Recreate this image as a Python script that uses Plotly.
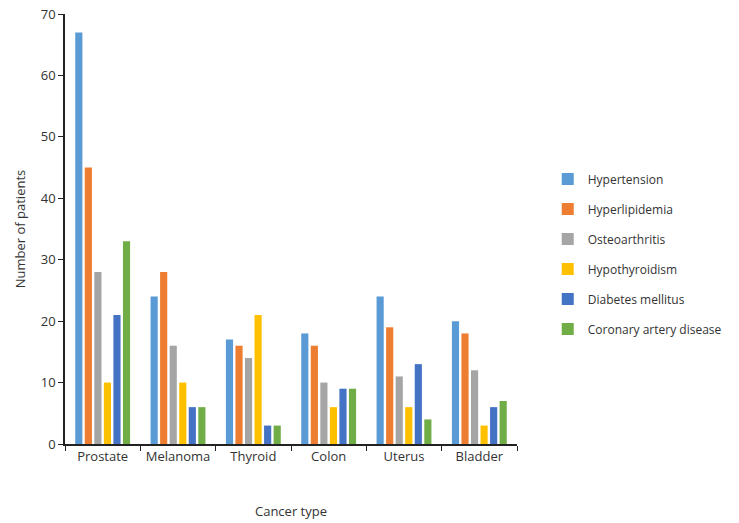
import plotly.graph_objects as go

cancer_types = ["Prostate", "Melanoma", "Thyroid", "Colon", "Uterus", "Bladder"]

hypertension = [67, 24, 17, 18, 24, 20]
hyperlipidemia = [45, 28, 16, 16, 19, 18]
osteoarthritis = [28, 16, 14, 10, 11, 12]
hypothyroidism = [10, 10, 21, 6, 6, 3]
diabetes_mellitus = [21, 6, 3, 9, 13, 6]
coronary_artery_disease = [33, 6, 3, 9, 4, 7]

series = [
    ("Hypertension", hypertension, "#5B9BD5"),
    ("Hyperlipidemia", hyperlipidemia, "#ED7D31"),
    ("Osteoarthritis", osteoarthritis, "#A5A5A5"),
    ("Hypothyroidism", hypothyroidism, "#FFC000"),
    ("Diabetes mellitus", diabetes_mellitus, "#4472C4"),
    ("Coronary artery disease", coronary_artery_disease, "#70AD47"),
]

fig = go.Figure()
for name, values, color in series:
    fig.add_trace(go.Bar(
        x=cancer_types, y=values, name=name,
        marker=dict(color=color, line=dict(width=0)),
        legendgroup=name,
    ))

font_family = "Open Sans, Liberation Sans, sans-serif"
text_color = "#333333"

fig.update_layout(
    width=739, height=523,
    margin=dict(l=65, r=212, t=14, b=79),
    plot_bgcolor="white", paper_bgcolor="white",
    barmode="group", bargap=0.24, bargroupgap=0.25,
    font=dict(family=font_family, size=12, color=text_color),
    legend=dict(
        x=1.068, y=0.65, xanchor="left", yanchor="top",
        font=dict(size=12, color=text_color),
        tracegroupgap=11, bgcolor="rgba(0,0,0,0)",
    ),
    xaxis=dict(
        automargin=False,
        showline=True, linecolor="#222222", linewidth=1.5,
        ticks="outside", tickson="boundaries", ticklen=5,
        tickcolor="#222222", showgrid=False,
        tickfont=dict(size=13, color=text_color),
        title=dict(text="Cancer type", font=dict(size=13, color=text_color), standoff=43),
    ),
    yaxis=dict(
        automargin=False,
        range=[0, 70], dtick=10,
        showline=True, linecolor="#222222", linewidth=1.5,
        ticks="outside", ticklen=5, tickcolor="#222222",
        showgrid=False, zeroline=False,
        tickfont=dict(size=13, color=text_color),
        title=dict(text="Number of patients", font=dict(size=13, color=text_color), standoff=12),
    ),
)

fig.write_html("out.html")
